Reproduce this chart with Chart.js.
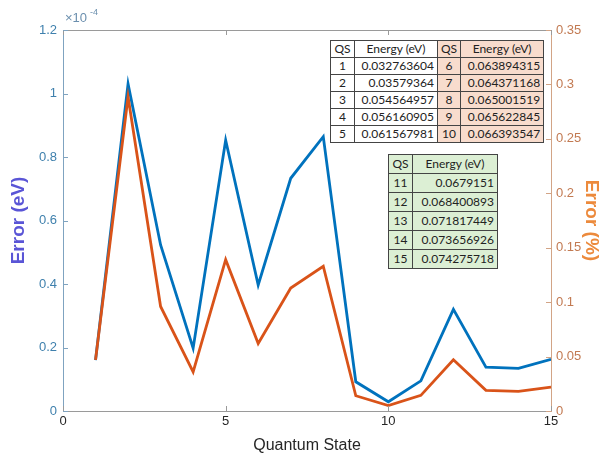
<!DOCTYPE html>
<html>
<head>
<meta charset="utf-8">
<script src="https://cdn.jsdelivr.net/npm/chart.js@4.4.0/dist/chart.umd.min.js"></script>
<style>
  body { margin: 0; background: #fff; }
  #wrap { position: relative; width: 604px; height: 455px; }
  table.qs {
    position: absolute;
    border-collapse: collapse;
    font-family: Lato, "Open Sans", sans-serif;
    font-size: 12px;
    color: #222;
    background: #fff;
  }
  table.qs td { border: 1px solid #444; padding: 0 3px; line-height: 16px; white-space: nowrap; }
  table.qs td.n { text-align: center; }
  table.qs td.e { text-align: right; }
  table.qs tr.h td { text-align: center; }
  #t1 { left: 330px; top: 40px; }
  #t1 td.pink { background: #f8dccd; }
  #t2 { left: 388px; top: 154px; background: #dcefd4; }
  #t2 td { line-height: 18px; }
</style>
</head>
<body>
<div id="wrap">
  <canvas id="chart"></canvas>
  <table class="qs" id="t1"></table>
  <table class="qs" id="t2"></table>
</div>
<script>
// quantum states on the x axis
const states = [1, 2, 3, 4, 5, 6, 7, 8, 9, 10, 11, 12, 13, 14, 15];
// absolute error, in units of 1e-4 eV
const errorEv = [0.16, 1.03, 0.523, 0.198, 0.853, 0.397, 0.733, 0.864, 0.092, 0.029, 0.095, 0.320, 0.138, 0.134, 0.163];
// relative error in %
const errorPct = [0.047, 0.2885, 0.096, 0.036, 0.139, 0.062, 0.113, 0.133, 0.014, 0.005, 0.0144, 0.047, 0.019, 0.018, 0.022];
// energies shown in the tables
const energies = ['0.032763604', '0.03579364', '0.054564957', '0.056160905', '0.061567981',
                  '0.063894315', '0.064371168', '0.065001519', '0.065622845', '0.066393547',
                  '0.0679151', '0.068400893', '0.071817449', '0.073656926', '0.074275718'];

// tables
let t1 = '<tr class="h"><td>QS</td><td>Energy (eV)</td><td class="pink">QS</td><td class="pink">Energy (eV)</td></tr>';
for (let i = 0; i < 5; i++) {
    t1 += '<tr><td class="n" style="width:17px">' + states[i] + '</td><td class="e" style="width:76px">' + energies[i] +
          '</td><td class="n pink" style="width:12px">' + states[i + 5] + '</td><td class="e pink" style="width:76px">' + energies[i + 5] + '</td></tr>';
}
document.getElementById('t1').innerHTML = t1;
let t2 = '<tr class="h"><td>QS</td><td>Energy (eV)</td></tr>';
for (let i = 10; i < 15; i++) {
    t2 += '<tr><td class="n" style="width:17px">' + states[i] + '</td><td class="e" style="width:78px">' + energies[i] + '</td></tr>';
}
document.getElementById('t2').innerHTML = t2;

const blue = '#0072BD';
const orange = '#D95319';
const leftTick = '#3f80ad';
const rightTick = '#c27a52';

// inward tick marks, top border and the x10^-4 label
const decor = {
    id: 'decor',
    afterDraw(c) {
        const ctx = c.ctx;
        const a = c.chartArea;
        const x = c.scales.x, y = c.scales.y, y2 = c.scales.y2;
        ctx.save();
        ctx.lineWidth = 1;
        ctx.strokeStyle = '#9a9a9a';
        ctx.beginPath();
        ctx.moveTo(a.left, a.top + 0.5);
        ctx.lineTo(a.right, a.top + 0.5);
        ctx.stroke();
        x.ticks.forEach(t => {
            const px = Math.round(x.getPixelForValue(t.value)) + 0.5;
            ctx.beginPath();
            ctx.moveTo(px, a.bottom); ctx.lineTo(px, a.bottom - 5);
            ctx.moveTo(px, a.top); ctx.lineTo(px, a.top + 5);
            ctx.stroke();
        });
        ctx.strokeStyle = '#7fa3c0';
        y.ticks.forEach(t => {
            const py = Math.round(y.getPixelForValue(t.value)) + 0.5;
            ctx.beginPath(); ctx.moveTo(a.left, py); ctx.lineTo(a.left + 5, py); ctx.stroke();
        });
        ctx.strokeStyle = '#d2a486';
        y2.ticks.forEach(t => {
            const py = Math.round(y2.getPixelForValue(t.value)) + 0.5;
            ctx.beginPath(); ctx.moveTo(a.right, py); ctx.lineTo(a.right - 5, py); ctx.stroke();
        });
        ctx.fillStyle = '#6b8fae';
        ctx.textBaseline = 'alphabetic';
        ctx.font = '13px "Liberation Sans", Arial, sans-serif';
        ctx.fillText('\u00d710', a.left + 2, a.top - 8);
        ctx.font = '9px "Liberation Sans", Arial, sans-serif';
        ctx.fillText('-4', a.left + 27, a.top - 15);
        ctx.restore();
    }
};

const config = {
    type: 'line',
    data: {
        datasets: [{
            label: 'Error (eV)',
            data: states.map((s, i) => ({ x: s, y: errorEv[i] })),
            borderColor: blue,
            borderWidth: 2.8,
            pointRadius: 0,
            tension: 0,
            yAxisID: 'y',
            order: 2
        }, {
            label: 'Error (%)',
            data: states.map((s, i) => ({ x: s, y: errorPct[i] })),
            borderColor: orange,
            borderWidth: 2.8,
            pointRadius: 0,
            tension: 0,
            yAxisID: 'y2',
            order: 1
        }]
    },
    options: {
        responsive: true,
        maintainAspectRatio: false,
        animation: false,
        layout: { padding: { top: 30, left: 0, right: 0, bottom: 0 } },
        plugins: { legend: { display: false }, tooltip: { enabled: false } },
        scales: {
            x: {
                type: 'linear',
                min: 0, max: 15,
                ticks: { stepSize: 5, color: '#262626', padding: 3, maxRotation: 0,
                         font: { family: '"Liberation Sans", Arial', size: 13 } },
                grid: { drawOnChartArea: false, drawTicks: false },
                border: { color: '#9a9a9a', width: 1 },
                title: { display: true, text: 'Quantum State', color: '#262626', padding: 0,
                         font: { family: '"Liberation Sans", Arial', size: 16 } },
                afterFit: s => { s.height = 44; }
            },
            y: {
                position: 'left',
                min: 0, max: 1.2,
                ticks: { stepSize: 0.2, color: leftTick, padding: 6,
                         font: { family: '"Liberation Sans", Arial', size: 13 },
                         callback: v => Number(v.toFixed(1)) },
                grid: { drawOnChartArea: false, drawTicks: false },
                border: { color: '#7fa3c0', width: 1 },
                title: { display: true, text: 'Error (eV)', color: '#5a55d6', padding: { top: 7, bottom: 0 },
                         font: { family: '"Liberation Sans", Arial', size: 19, weight: 'bold' } },
                afterFit: s => { s.width = 63; }
            },
            y2: {
                position: 'right',
                min: 0, max: 0.35,
                ticks: { stepSize: 0.05, color: rightTick, padding: 5,
                         font: { family: '"Liberation Sans", Arial', size: 13 },
                         callback: v => Number(v.toFixed(2)) },
                grid: { drawOnChartArea: false, drawTicks: false },
                border: { color: '#d2a486', width: 1 },
                title: { display: true, text: 'Error (%)', color: '#ec8a3c', padding: { top: 1, bottom: 0 },
                         font: { family: '"Liberation Sans", Arial', size: 19, weight: 'bold' } },
                afterFit: s => { s.width = 53; }
            }
        }
    },
    plugins: [decor]
};

const chart = new Chart(document.getElementById('chart'), config);
</script>
</body>
</html>
